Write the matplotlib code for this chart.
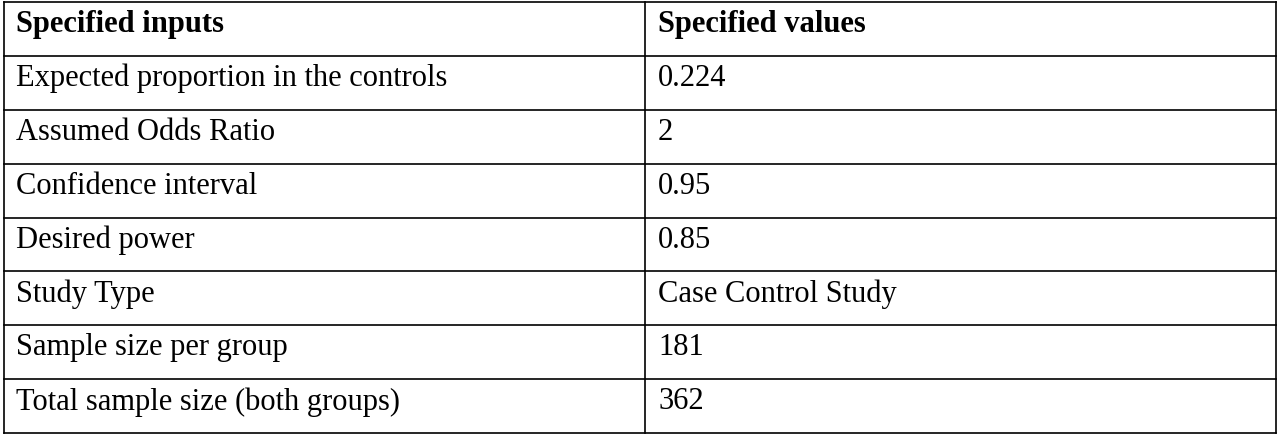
import matplotlib
matplotlib.use("Agg")
import matplotlib.pyplot as plt

headers = ["Specified inputs", "Specified values"]
inputs = ["Expected proportion in the controls", "Assumed Odds Ratio", "Confidence interval",
          "Desired power", "Study Type", "Sample size per group", "Total sample size (both groups)"]
values = ["0.224", "2", "0.95", "0.85", "Case Control Study", "181", "362"]

W, H = 1280, 436
fig = plt.figure(figsize=(W/100, H/100), dpi=100)
ax = fig.add_axes([0, 0, 1, 1])
ax.set_xlim(0, W); ax.set_ylim(H, 0); ax.axis("off")

left, right, mid = 4, 1276, 645
top, bottom = 2, 433
nrows = len(inputs) + 1
rh = (bottom - top) / nrows
lw = 1.2
for i in range(nrows + 1):
    y = top + i * rh
    ax.plot([left, right], [y, y], color="black", lw=lw)
for x in (left, mid, right):
    ax.plot([x, x], [top, bottom], color="black", lw=lw)

font = dict(family="Liberation Serif", fontsize=22, va="center", ha="left", color="black")
rows = [headers] + [[a, b] for a, b in zip(inputs, values)]
for i, (a, b) in enumerate(rows):
    y = top + (i + 0.42) * rh
    w = "bold" if i == 0 else "normal"
    ax.text(16, y, a, fontweight=w, **font)
    ax.text(658, y, b, fontweight=w, **font)

fig.savefig("out.png", dpi=100)
